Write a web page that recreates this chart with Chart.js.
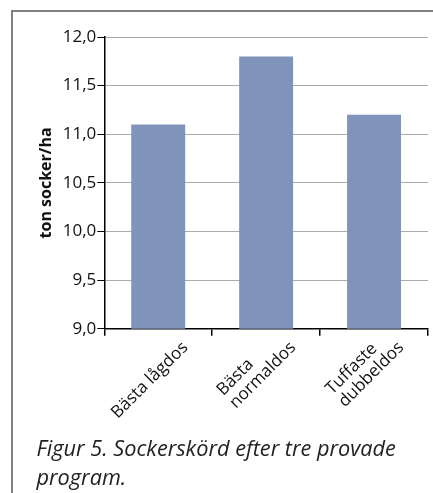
<!DOCTYPE html>
<html>
<head>
<meta charset="utf-8">
<script src="https://cdn.jsdelivr.net/npm/chart.js@4/dist/chart.umd.min.js"></script>
<style>
  html, body { margin: 0; padding: 0; background: #fff; }
  #wrap { width: 433px; height: 493px; position: relative; }
</style>
</head>
<body>
<div id="wrap"><canvas id="c" width="433" height="493"></canvas></div>
<script>
// Programs compared (multi-line labels as arrays)
const categories = [["Bästa lågdos"], ["Bästa", "normaldos"], ["Tuffaste", "dubbeldos"]];
// Sugar yield, ton socker/ha
const yieldValues = [11.1, 11.8, 11.2];
// Value axis range and step
const yMin = 9.0;
const yMax = 12.0;
const yStep = 0.5;

const axisTitle = "ton socker/ha";
const caption = ["Figur 5. Sockerskörd efter tre provade", "program."];

const FONT = "'Open Sans', 'DejaVu Sans', sans-serif";
const LABEL_SIZE = 17;
const LABEL_LINE = 18;

// Grey frame line on the left and top edges
const framePlugin = {
  id: 'frame',
  beforeDraw(chart) {
    const ctx = chart.ctx;
    ctx.save();
    ctx.strokeStyle = '#808080';
    ctx.lineWidth = 2;
    ctx.beginPath();
    ctx.moveTo(12, chart.height);
    ctx.lineTo(12, 11);
    ctx.lineTo(chart.width, 11);
    ctx.stroke();
    ctx.restore();
  }
};

// Category labels at 45°, lines left-aligned, placed from the x scale
const xLabelPlugin = {
  id: 'xLabels',
  afterDraw(chart) {
    const xs = chart.scales.x;
    const ctx = chart.ctx;
    ctx.save();
    ctx.font = `${LABEL_SIZE}px ${FONT}`;
    ctx.fillStyle = '#111';
    ctx.textAlign = 'left';
    ctx.textBaseline = 'middle';
    categories.forEach((lines, i) => {
      const cx = xs.getPixelForValue(i);
      const w = Math.max(...lines.map(l => ctx.measureText(l).width));
      const n = lines.length;
      ctx.save();
      ctx.translate(cx + 27, xs.top + 16);
      ctx.rotate(-Math.PI / 4);
      lines.forEach((l, k) => {
        ctx.fillText(l, -w, (k - (n - 1)) * LABEL_LINE);
      });
      ctx.restore();
    });
    ctx.restore();
  }
};

new Chart(document.getElementById('c'), {
  type: 'bar',
  data: {
    labels: categories,
    datasets: [{
      data: yieldValues,
      backgroundColor: '#8093ba',
      borderWidth: 0,
      barPercentage: 0.5,
      categoryPercentage: 1.0
    }]
  },
  options: {
    responsive: false,
    animation: false,
    layout: { padding: { left: 36.5, right: 5, top: 37, bottom: 0 } },
    plugins: {
      legend: { display: false },
      tooltip: { enabled: false },
      title: {
        display: true,
        position: 'bottom',
        align: 'start',
        text: caption,
        color: '#222',
        font: { family: FONT, size: 21.7, style: 'italic', weight: 'normal', lineHeight: 1.33 },
        padding: { top: 99.5, bottom: 0 }
      }
    },
    scales: {
      x: {
        grid: {
          offset: true,
          drawOnChartArea: false,
          drawTicks: true,
          tickLength: 7,
          color: '#000',
          tickColor: '#000',
          lineWidth: 1.5
        },
        border: { display: true, color: '#000', width: 1.5 },
        ticks: { display: false }
      },
      y: {
        min: yMin,
        max: yMax,
        ticks: {
          stepSize: yStep,
          padding: 1,
          color: '#111',
          font: { family: FONT, size: 17 },
          callback: (v) => Number(v).toFixed(1).replace('.', ',')
        },
        grid: {
          color: '#aaaaaa',
          tickColor: '#000',
          tickLength: 7,
          lineWidth: 1
        },
        border: { display: true, color: '#000', width: 1.5 },
        title: {
          display: true,
          text: axisTitle,
          color: '#111',
          font: { family: FONT, size: 16, weight: 'bold' },
          padding: { top: 0, bottom: 6 }
        }
      }
    }
  },
  plugins: [framePlugin, xLabelPlugin]
});
</script>
</body>
</html>
